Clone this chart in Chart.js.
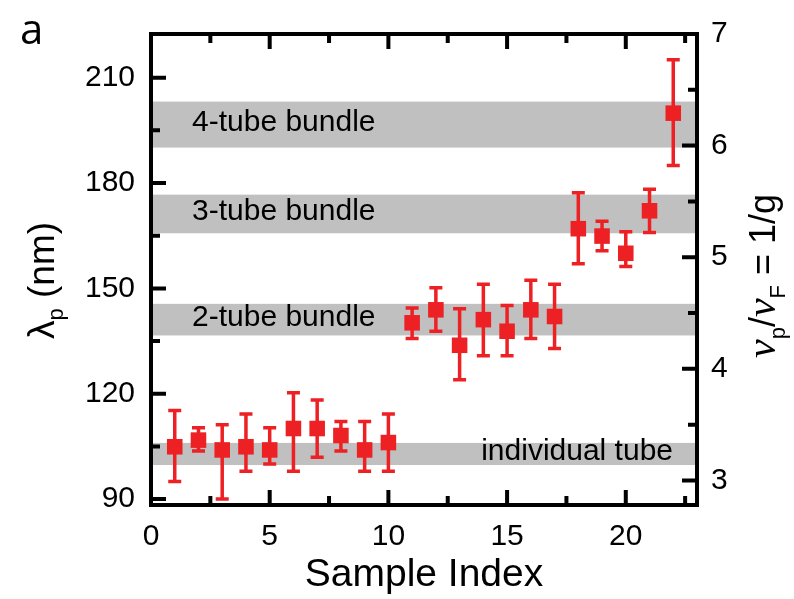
<!DOCTYPE html>
<html>
<head>
<meta charset="utf-8">
<script src="https://cdn.jsdelivr.net/npm/chart.js@4.4.1/dist/chart.umd.min.js"></script>
<style>
html,body{margin:0;padding:0;background:#fff;}
#wrap{width:794px;height:599px;position:relative;}
canvas{display:block;}
</style>
</head>
<body>
<div id="wrap"><canvas id="c" width="794" height="599"></canvas></div>
<script>
// ---- data ----
const sampleIndex = [1,2,3,4,5,6,7,8,9,10,11,12,13,14,15,16,17,18,19,20,21,22];
const lambdaP     = [104.9,106.8,104.0,104.9,104.0,110.1,110.1,108.1,104.0,106.1,140.2,143.9,133.8,141.1,137.8,143.9,142.0,167.0,164.9,160.0,172.1,199.9];
const errTop      = [115.2,110.3,111.2,114.2,110.3,120.3,118.2,112.1,112.1,114.2,144.4,150.2,144.2,151.2,145.1,152.3,151.2,177.2,169.1,166.1,178.2,215.1];
const errBottom   = [95.0,103.7,90.0,97.9,100.0,97.9,101.9,103.7,97.9,97.9,135.7,137.8,124.0,130.8,130.8,135.7,132.9,157.0,160.7,156.2,165.9,185.0];

const bandLabels = ['individual tube','2-tube bundle','3-tube bundle','4-tube bundle'];
const bandLow    = [99.7,136.6,165.7,190.1];
const bandHigh   = [106.0,145.6,176.7,203.2];

const xTicks  = [0,5,10,15,20];
const xMinor  = [2.5,7.5,12.5,17.5,22.5];
const yTicks  = [90,120,150,180,210];
const yMinor  = [105,135,165,195];
const y2Ticks = [3,4,5,6,7];
const y2Minor = [3.5,4.5,5.5,6.5];

const RED = '#ed2024';
const GRAY = '#c0c0c0';
const SANS = '"Liberation Sans", Arial, sans-serif';

// draws a run of text parts starting at (x, y) along +x
function drawRun(ctx, parts, x, y) {
  ctx.textBaseline = 'alphabetic';
  ctx.textAlign = 'left';
  let cx = x;
  parts.forEach(p => {
    ctx.font = p.font;
    ctx.fillText(p.t, cx, y + (p.dy || 0));
    cx += ctx.measureText(p.t).width + (p.gap || 0);
  });
}

const decor = {
  id: 'decor',
  beforeDatasetsDraw(chart) {
    const {ctx, chartArea: a, scales} = chart;
    const ys = scales.y, xs = scales.x;
    ctx.save();
    ctx.beginPath(); ctx.rect(a.left, a.top, a.right - a.left, a.bottom - a.top); ctx.clip();
    // bands
    ctx.fillStyle = GRAY;
    for (let i = 0; i < bandLow.length; i++) {
      const y1 = ys.getPixelForValue(bandHigh[i]), y2 = ys.getPixelForValue(bandLow[i]);
      ctx.fillRect(a.left, y1, a.right - a.left, y2 - y1);
    }
    // band labels
    ctx.fillStyle = '#000';
    ctx.font = '30px ' + SANS;
    ctx.textBaseline = 'middle';
    for (let i = 0; i < bandLabels.length; i++) {
      const yc = (ys.getPixelForValue(bandHigh[i]) + ys.getPixelForValue(bandLow[i])) / 2 - 2;
      if (i === 0) { ctx.textAlign = 'right'; ctx.fillText(bandLabels[i], a.right - 24, yc); }
      else { ctx.textAlign = 'left'; ctx.fillText(bandLabels[i], a.left + 41, yc); }
    }
    // error bars
    ctx.strokeStyle = RED; ctx.lineWidth = 3.5; ctx.lineCap = 'butt';
    for (let i = 0; i < sampleIndex.length; i++) {
      const x = xs.getPixelForValue(sampleIndex[i]);
      const yt = ys.getPixelForValue(errTop[i]), yb = ys.getPixelForValue(errBottom[i]);
      ctx.beginPath();
      ctx.moveTo(x, yt); ctx.lineTo(x, yb);
      ctx.moveTo(x - 6.5, yt); ctx.lineTo(x + 6.5, yt);
      ctx.moveTo(x - 6.5, yb); ctx.lineTo(x + 6.5, yb);
      ctx.stroke();
    }
    ctx.restore();
  },
  afterDraw(chart) {
    const {ctx, chartArea: a, scales} = chart;
    const xs = scales.x, ys = scales.y, y2s = scales.y2;
    ctx.save();
    ctx.strokeStyle = '#000'; ctx.lineWidth = 4; ctx.lineCap = 'butt';
    // frame
    ctx.strokeRect(a.left, a.top, a.right - a.left, a.bottom - a.top);
    const MAJ = 15, MIN = 9;
    ctx.beginPath();
    xTicks.forEach(v => { const x = xs.getPixelForValue(v);
      ctx.moveTo(x, a.bottom); ctx.lineTo(x, a.bottom - MAJ);
      ctx.moveTo(x, a.top); ctx.lineTo(x, a.top + MAJ); });
    xMinor.forEach(v => { const x = xs.getPixelForValue(v);
      ctx.moveTo(x, a.bottom); ctx.lineTo(x, a.bottom - MIN);
      ctx.moveTo(x, a.top); ctx.lineTo(x, a.top + MIN); });
    yTicks.forEach(v => { const y = ys.getPixelForValue(v);
      ctx.moveTo(a.left, y); ctx.lineTo(a.left + MAJ, y); });
    yMinor.forEach(v => { const y = ys.getPixelForValue(v);
      ctx.moveTo(a.left, y); ctx.lineTo(a.left + MIN, y); });
    y2Ticks.forEach(v => { const y = y2s.getPixelForValue(v);
      ctx.moveTo(a.right, y); ctx.lineTo(a.right - MAJ, y); });
    y2Minor.forEach(v => { const y = y2s.getPixelForValue(v);
      ctx.moveTo(a.right, y); ctx.lineTo(a.right - MIN, y); });
    ctx.stroke();

    ctx.fillStyle = '#000';
    // panel letter
    ctx.font = '42px "Open Sans", sans-serif';
    ctx.textAlign = 'left'; ctx.textBaseline = 'alphabetic';
    ctx.fillText('a', 20, 44);
    // x title
    ctx.font = '39px ' + SANS;
    ctx.textAlign = 'center';
    ctx.fillText('Sample Index', 424, 586);
    // left title (reads bottom to top, starts near y=338)
    ctx.save();
    ctx.translate(54, 339); ctx.rotate(-Math.PI / 2);
    drawRun(ctx, [
      {t: 'λ', font: '37px ' + SANS},
      {t: 'p', font: '22px ' + SANS, dy: 9},
      {t: ' (nm)', font: '37px ' + SANS}
    ], 0, 0);
    ctx.restore();
    // right title (reads bottom to top, starts near y=358)
    ctx.save();
    ctx.translate(775, 358); ctx.rotate(-Math.PI / 2);
    drawRun(ctx, [
      {t: 'ν', font: 'italic 42px "Liberation Serif", serif'},
      {t: 'p', font: '22px ' + SANS, dy: 10},
      {t: '/', font: '36px ' + SANS},
      {t: 'ν', font: 'italic 42px "Liberation Serif", serif'},
      {t: 'F', font: '22px ' + SANS, dy: 10},
      {t: ' = 1/g', font: '36px ' + SANS}
    ], 0, 0);
    ctx.restore();
    ctx.restore();
  }
};

const tickFont = {family: SANS, size: 30};

new Chart(document.getElementById('c'), {
  type: 'scatter',
  data: {
    datasets: [{
      data: sampleIndex.map((x, i) => ({x: x, y: lambdaP[i]})),
      pointStyle: 'rect',
      pointRadius: 11,
      pointHoverRadius: 11,
      backgroundColor: RED,
      borderWidth: 0,
      yAxisID: 'y'
    }]
  },
  options: {
    responsive: false,
    animation: false,
    devicePixelRatio: 1,
    layout: {padding: {top: 26, left: 0, right: 0, bottom: 0}},
    plugins: {legend: {display: false}, tooltip: {enabled: false}},
    events: [],
    scales: {
      x: {
        type: 'linear', position: 'bottom', min: 0, max: 23,
        afterBuildTicks: s => { s.ticks = xTicks.map(v => ({value: v})); },
        afterFit: s => { s.height = 94; },
        grid: {display: false, drawTicks: false},
        border: {display: false},
        ticks: {font: tickFont, color: '#000', padding: 14, maxRotation: 0, autoSkip: false}
      },
      y: {
        type: 'linear', position: 'left', min: 88.32, max: 222.44,
        afterBuildTicks: s => { s.ticks = yTicks.map(v => ({value: v})); },
        afterFit: s => { s.width = 151; },
        grid: {display: false, drawTicks: false},
        border: {display: false},
        ticks: {font: tickFont, color: '#000', padding: 16, autoSkip: false}
      },
      y2: {
        type: 'linear', position: 'right', min: 2.78, max: 7.0,
        afterBuildTicks: s => { s.ticks = y2Ticks.map(v => ({value: v})); },
        afterFit: s => { s.width = 97; },
        grid: {display: false, drawTicks: false},
        border: {display: false},
        ticks: {font: tickFont, color: '#000', padding: 14, autoSkip: false}
      }
    }
  },
  plugins: [decor]
});
</script>
</body>
</html>
